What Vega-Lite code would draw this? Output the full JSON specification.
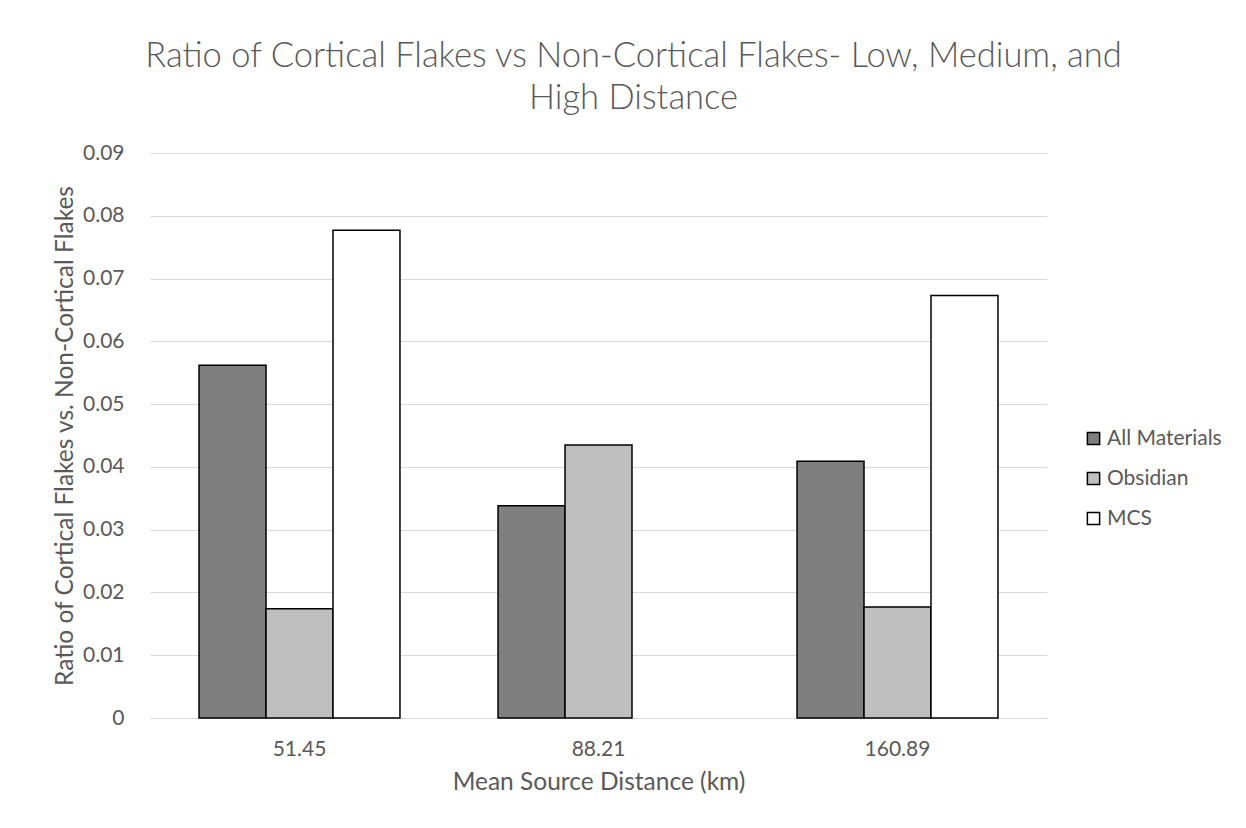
{
  "$schema": "https://vega.github.io/schema/vega-lite/v6.json",
  "autosize": {"type": "none"},
  "width": 897,
  "height": 565,
  "padding": {"left": 150, "top": 153, "right": 199, "bottom": 110},
  "background": "white",
  "title": {
    "text": ["Ratio of Cortical Flakes vs Non-Cortical Flakes- Low, Medium, and", "High Distance"],
    "font": "Lato",
    "fontSize": 34.5,
    "fontWeight": 300,
    "color": "#595959",
    "lineHeight": 42,
    "anchor": "middle",
    "dx": 35,
    "offset": 26
  },
  "data": {
    "values": [
      {"distance": "51.45", "material": "All Materials", "ratio": 0.0562},
      {"distance": "51.45", "material": "Obsidian", "ratio": 0.0174},
      {"distance": "51.45", "material": "MCS", "ratio": 0.0777},
      {"distance": "88.21", "material": "All Materials", "ratio": 0.0338},
      {"distance": "88.21", "material": "Obsidian", "ratio": 0.0435},
      {"distance": "160.89", "material": "All Materials", "ratio": 0.0409},
      {"distance": "160.89", "material": "Obsidian", "ratio": 0.0177},
      {"distance": "160.89", "material": "MCS", "ratio": 0.0673}
    ]
  },
  "mark": {"type": "bar", "stroke": "black", "strokeWidth": 1.5},
  "encoding": {
    "x": {
      "field": "distance",
      "type": "nominal",
      "sort": ["51.45", "88.21", "160.89"],
      "scale": {"paddingInner": 0.328, "paddingOuter": 0.164},
      "axis": {
        "title": "Mean Source Distance (km)",
        "labelAngle": 0,
        "labelFont": "Lato",
        "labelFontSize": 21,
        "labelColor": "#595959",
        "labelPadding": 20,
        "titleFont": "Lato",
        "titleFontSize": 24.5,
        "titleFontWeight": "normal",
        "titleColor": "#595959",
        "titlePadding": 11,
        "ticks": false,
        "domainColor": "#d9d9d9",
        "domainWidth": 1
      }
    },
    "xOffset": {
      "field": "material",
      "type": "nominal",
      "sort": ["All Materials", "Obsidian", "MCS"],
      "scale": {"paddingInner": 0, "paddingOuter": 0}
    },
    "y": {
      "field": "ratio",
      "type": "quantitative",
      "scale": {"domain": [0, 0.09], "nice": false},
      "axis": {
        "title": "Ratio of Cortical Flakes vs. Non-Cortical Flakes",
        "values": [0, 0.01, 0.02, 0.03, 0.04, 0.05, 0.06, 0.07, 0.08, 0.09],
        "format": ".2~f",
        "labelFont": "Lato",
        "labelFontSize": 21,
        "labelColor": "#595959",
        "labelPadding": 26,
        "titleFont": "Lato",
        "titleFontSize": 24.5,
        "titleFontWeight": "normal",
        "titleColor": "#595959",
        "titlePadding": 5,
        "ticks": false,
        "domain": false,
        "gridColor": "#d9d9d9",
        "gridWidth": 1
      }
    },
    "fill": {
      "field": "material",
      "type": "nominal",
      "sort": ["All Materials", "Obsidian", "MCS"],
      "scale": {"domain": ["All Materials", "Obsidian", "MCS"], "range": ["#7f7f7f", "#bfbfbf", "#ffffff"]},
      "legend": {
        "title": null,
        "orient": "none",
        "legendX": 933,
        "legendY": 275,
        "symbolType": "square",
        "symbolSize": 150,
        "symbolStrokeColor": "black",
        "symbolStrokeWidth": 1.5,
        "labelFont": "Lato",
        "labelFontSize": 21,
        "labelColor": "#595959",
        "labelOffset": 3,
        "rowPadding": 18
      }
    }
  },
  "config": {
    "view": {"stroke": null}
  }
}
